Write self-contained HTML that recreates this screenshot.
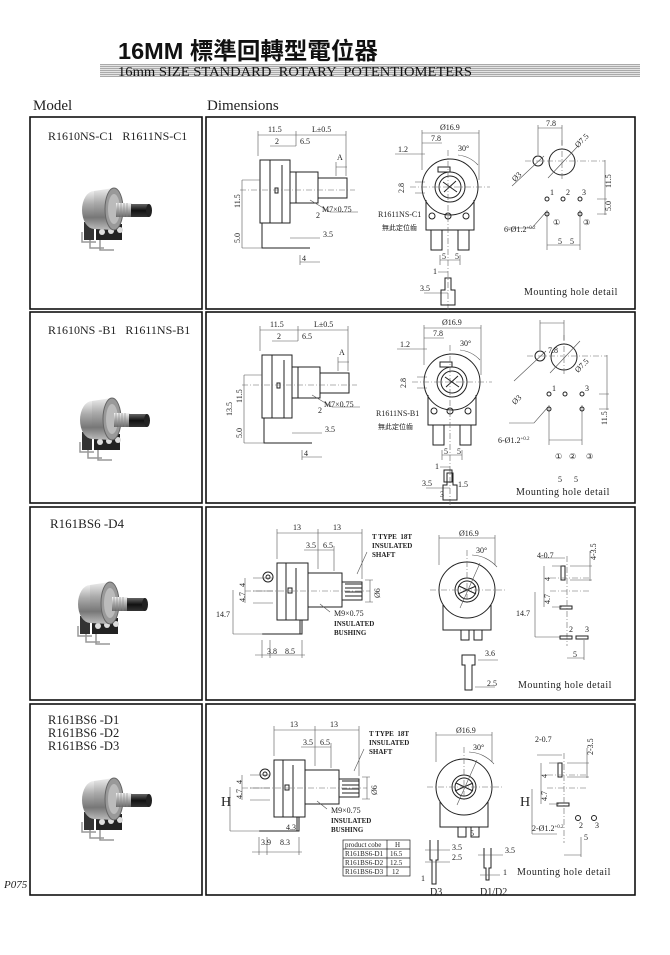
<!DOCTYPE html>
<html><head><meta charset="utf-8"><style>
html,body{margin:0;padding:0;background:#fff}
svg{display:block}
.l{stroke:#222;fill:none;stroke-width:1}
.b{stroke:#111;fill:none;stroke-width:1.6}
.d{stroke:#555;fill:none;stroke-width:.6}
.c{stroke:#666;fill:none;stroke-width:.6;stroke-dasharray:6 2 1 2}
text{font-family:"Liberation Serif",serif;fill:#222;white-space:pre}
.t{font-size:8px}
.s{font-size:7px;font-weight:bold}
</style></head><body>
<svg width="670" height="955" viewBox="0 0 670 955" xmlns="http://www.w3.org/2000/svg">
<defs>
<linearGradient id="cy" x1="0" y1="0" x2="0" y2="1">
<stop offset="0" stop-color="#eee"/><stop offset=".35" stop-color="#aaa"/><stop offset=".7" stop-color="#777"/><stop offset="1" stop-color="#bbb"/></linearGradient>
<linearGradient id="sv" x1="0" y1="0" x2="0" y2="1">
<stop offset="0" stop-color="#f4f4f4"/><stop offset=".5" stop-color="#aaa"/><stop offset="1" stop-color="#666"/></linearGradient>
<linearGradient id="hd" x1="0" y1="0" x2="0" y2="1">
<stop offset="0" stop-color="#666"/><stop offset=".5" stop-color="#111"/><stop offset="1" stop-color="#333"/></linearGradient>
<pattern id="st" width="4" height="2" patternUnits="userSpaceOnUse"><rect width="4" height="1" fill="#aaa"/><rect y="1" width="4" height="1" fill="#e4e4e4"/></pattern>
<g id="photo">
<path d="M-30 20v10h14 M-22 24v12h14 M-12 28v10h14" stroke="#999" stroke-width="1.5" fill="none"/>
<rect x="-28" y="10" width="10" height="18" fill="#333"/>
<rect x="-16" y="12" width="26" height="16" fill="#222"/>
<circle cx="-10" cy="20" r="3" fill="#ddd"/><circle cx="-1" cy="19" r="3" fill="#ddd"/><circle cx="8" cy="18" r="3" fill="#ddd"/>
<ellipse cx="-18" cy="-2" rx="12" ry="19" fill="url(#cy)"/>
<path d="M-18 -21 L2 -24 L2 18 L-18 17z" fill="url(#cy)"/>
<ellipse cx="2" cy="-3" rx="9" ry="21" fill="#999" stroke="#666"/>
<ellipse cx="2" cy="-3" rx="6" ry="15" fill="#bbb"/>
<rect x="4" y="-9" width="16" height="14" fill="url(#sv)"/>
<path d="M6 -9v14 M9 -9v14 M12 -9v14 M15 -9v14" stroke="#888" stroke-width=".6"/>
<rect x="19" y="-8" width="18" height="13" fill="url(#hd)"/>
<ellipse cx="37" cy="-1.5" rx="3" ry="6.5" fill="#222"/>
</g>
</defs>

<text x="118" y="59" style="font-family:'Liberation Sans','Noto Sans CJK TC',sans-serif;font-size:23.5px;font-weight:bold;fill:#111">16MM 標準回轉型電位器</text>
<rect x="100" y="64" width="540" height="13" fill="url(#st)"/>
<text x="118" y="76" textLength="354" lengthAdjust="spacingAndGlyphs" style="font-size:14px;fill:#111">16mm SIZE STANDARD  ROTARY  POTENTIOMETERS</text>
<text x="33" y="110" style="font-size:15px">Model</text>
<text x="207" y="110" style="font-size:15px">Dimensions</text>

<g class="b">
<rect x="30" y="117" width="172" height="192"/><rect x="206" y="117" width="429" height="192"/>
<rect x="30" y="312" width="172" height="191"/><rect x="206" y="312" width="429" height="191"/>
<rect x="30" y="507" width="172" height="193"/><rect x="206" y="507" width="429" height="193"/>
<rect x="30" y="704" width="172" height="191"/><rect x="206" y="704" width="429" height="191"/>
</g>

<text x="48" y="140" style="font-size:12px">R1610NS-C1   R1611NS-C1</text>
<text x="48" y="334" style="font-size:12px">R1610NS -B1   R1611NS-B1</text>
<text x="50" y="528" style="font-size:13px">R161BS6 -D4</text>
<text x="48" y="724" style="font-size:12.5px">R161BS6 -D1</text>
<text x="48" y="737" style="font-size:12.5px">R161BS6 -D2</text>
<text x="48" y="750" style="font-size:12.5px">R161BS6 -D3</text>

<use href="#photo" x="112" y="212"/>
<use href="#photo" x="110" y="422"/>
<use href="#photo" x="108" y="606"/>
<use href="#photo" x="112" y="802"/>

<text x="4" y="888" style="font-size:11px;font-style:italic">P075</text>

<g id="r1">
<path class="l" d="M260 160h30v63h-30z M290 172h28v31h-28z M318 178h29v20h-29z M262 223v25h48"/>
<path class="l" d="M270 160v63 M282 165v58 M296 172v31"/>
<rect x="275" y="188" width="3" height="5" class="l"/>
<path class="c" d="M240 190h115"/>
<path class="d" d="M258 135h88 M296 131v15 M258 131v25 M346 131v45 M270 146h26 M336 167h11 M336 162v14 M242 180h18 M242 180v43 M242 223v25 M242 248h20 M290 238h30 M300 262h20 M300 255v10"/>
<path class="d" d="M310 200l20 12h28"/>
<text class="t" x="268" y="132">11.5</text><text class="t" x="312" y="132">L±0.5</text>
<text class="t" x="275" y="144">2</text><text class="t" x="300" y="144">6.5</text>
<text class="t" x="337" y="160">A</text>
<text class="t" x="322" y="212">M7×0.75</text><text class="t" x="316" y="218">2</text>
<text class="t" x="323" y="237">3.5</text><text class="t" x="302" y="261">4</text>
<text class="t" transform="translate(240 208) rotate(-90)">11.5</text>
<text class="t" transform="translate(240 243) rotate(-90)">5.0</text>
<circle cx="450" cy="187" r="28" class="l"/><circle cx="450" cy="187" r="15" class="l"/><circle cx="450" cy="187" r="11" class="l"/>
<path class="l" d="M443 182l14 10 M444 192l12-11"/>
<rect x="438" y="167" width="12" height="5" class="l"/>
<path class="l" d="M426 200v30h48v-30 M431 230v20h11v-20 M458 230v20h11v-20"/>
<circle cx="432" cy="216" r="3" class="l"/><circle cx="448" cy="216" r="3" class="l"/><circle cx="466" cy="216" r="3" class="l"/>
<path class="c" d="M410 187h80 M448 150v160"/>
<path class="d" d="M422 133h57 M422 130v40 M479 130v50 M422 143h20 M395 154h30 M415 182h10 M415 193h10 M440 260h20 M440 255v10 M460 255v10 M424 293h24 M438 272h10"/>
<path class="d" d="M458 155a32 32 0 0 1 20 10"/>
<text class="t" x="440" y="130">Ø16.9</text><text class="t" x="431" y="141">7.8</text>
<text class="t" x="458" y="151">30°</text><text class="t" x="398" y="152">1.2</text>
<text class="t" transform="translate(404 193) rotate(-90)">2.8</text>
<path class="l" d="M445 278h6v12h4v15h-14v-15h4z"/>
<text class="t" x="433" y="274">1</text><text class="t" x="420" y="291">3.5</text>
<text class="t" x="442" y="259">5</text><text class="t" x="455" y="259">5</text>
<circle cx="562" cy="162" r="13" class="l"/><circle cx="538" cy="161" r="5" class="l"/>
<path class="c" d="M525 161h80 M562 140v40"/>
<path class="d" d="M538 128h24 M538 125v30 M562 125v20 M548 178l30-32 M512 186l32-30 M605 160v55 M597 199h10 M597 214h10 M547 245h33 M547 210v40 M580 210v40 M546 212l-14 16h-25"/>
<circle cx="547" cy="199" r="2" class="l"/><circle cx="563" cy="199" r="2" class="l"/><circle cx="580" cy="199" r="2" class="l"/>
<circle cx="547" cy="214" r="2" class="l"/><circle cx="580" cy="214" r="2" class="l"/>
</g>
<text class="t" x="546" y="126">7.8</text>
<text class="t" transform="translate(578 148) rotate(-45)">Ø7.5</text>
<text class="t" transform="translate(515 182) rotate(-45)">Ø3</text>
<text class="t" x="550" y="195">1</text><text class="t" x="566" y="195">2</text><text class="t" x="582" y="195">3</text>
<text class="t" x="553" y="225">①</text><text class="t" x="583" y="225">③</text>
<text class="t" x="504" y="232">6-Ø1.2<tspan font-size="5" dy="-3">+0.2</tspan></text>
<text class="t" transform="translate(611 188) rotate(-90)">11.5</text>
<text class="t" transform="translate(611 211) rotate(-90)">5.0</text>
<text class="t" x="558" y="244">5</text><text class="t" x="570" y="244">5</text>
<text class="t" x="378" y="217">R1611NS-C1</text>
<text x="382" y="230" style="font-family:'Noto Sans CJK TC',sans-serif;font-size:7px">無此定位齒</text>
<text x="524" y="295" style="font-size:10px;letter-spacing:.5px">Mounting hole detail</text>

<use href="#r1" x="2" y="195"/>
<text class="t" x="548" y="353">7.8</text>
<text class="t" transform="translate(578 373) rotate(-45)">Ø7.5</text>
<text class="t" transform="translate(515 405) rotate(-45)">Ø3</text>
<text class="t" x="552" y="391">1</text><text class="t" x="585" y="391">3</text>
<text class="t" x="555" y="459">①</text><text class="t" x="569" y="459">②</text><text class="t" x="586" y="459">③</text>
<text class="t" x="498" y="443">6-Ø1.2<tspan font-size="5" dy="-3">+0.2</tspan></text>
<text class="t" transform="translate(607 425) rotate(-90)">11.5</text>
<text class="t" x="558" y="482">5</text><text class="t" x="574" y="482">5</text>
<text class="t" x="376" y="416">R1611NS-B1</text>
<text x="378" y="429" style="font-family:'Noto Sans CJK TC',sans-serif;font-size:7px">無此定位齒</text>
<path class="l" d="M444 470h8v12h-8z"/>
<text class="t" x="458" y="487">1.5</text><text class="t" x="440" y="497">3</text>
<text x="516" y="495" style="font-size:10px;letter-spacing:.5px">Mounting hole detail</text>
<text class="t" transform="translate(232 416) rotate(-90)">13.5</text>

<g id="r3">
<path class="l" d="M277 563h31v57h-31z M308 573h34v34h-34z M342 582h20v18h-20z M262 634h40v-14 M300 620v14"/>
<path class="l" d="M345 584h17 M345 588h17 M345 592h17 M345 596h17 M286 563v57 M296 568v52"/>
<circle cx="268" cy="577" r="5" class="l"/><circle cx="268" cy="577" r="2" class="l"/>
<rect x="288" y="588" width="4" height="5" class="l"/>
<path class="c" d="M245 591h125"/>
<path class="d" d="M277 533h85 M277 529v30 M318 529v40 M362 529v50 M304 550h30 M334 546v25 M253 578h20 M253 591h20 M253 603h20 M245 578v25 M233 590v44 M233 634h30 M255 655h50 M262 640v18 M270 640v18 M302 640v18 M370 580v22 M365 580h8 M365 602h8 M330 612l-10-8 M357 574l10-22"/>
<text class="t" x="293" y="530">13</text><text class="t" x="333" y="530">13</text>
<text class="t" x="306" y="548">3.5</text><text class="t" x="323" y="548">6.5</text>
<text class="s" x="372" y="539">T TYPE  18T</text><text class="s" x="372" y="548">INSULATED</text><text class="s" x="372" y="557">SHAFT</text>
<text class="t" x="334" y="616">M9×0.75</text>
<text class="s" x="334" y="626">INSULATED</text><text class="s" x="334" y="635">BUSHING</text>
<text class="t" transform="translate(380 598) rotate(-90)">Ø6</text>
<text class="t" transform="translate(245 587) rotate(-90)">4</text>
<text class="t" transform="translate(245 602) rotate(-90)">4.7</text>
<circle cx="467" cy="590" r="28" class="l"/><circle cx="467" cy="590" r="12" class="l"/><circle cx="467" cy="590" r="9" class="l"/>
<path class="l" d="M458 594l18-8 M459 586l17 8"/>
<path class="l" d="M443 605v25h48v-25 M461 630v10h8v-10 M474 630v10h8v-10"/>
<path class="c" d="M430 590h75 M467 550v55"/>
<path class="d" d="M439 538h56 M439 535v30 M495 535v30 M472 555a35 35 0 0 1 25 12 M460 608l20-45"/>
<text class="t" x="459" y="536">Ø16.9</text><text class="t" x="476" y="553">30°</text>
<path class="l" d="M561 566h4v14h-4z M560 606h12v3h-12z"/>
<path class="c" d="M567 556v90 M550 578h40 M550 591h40"/>
<path class="d" d="M544 566v25 M552 566h10 M552 607h10 M544 591v16 M535 592v45 M535 637h25 M590 551v30 M570 566h22 M570 580h22 M567 658h17 M584 640v20 M540 558h25"/>
<text class="t" transform="translate(550 581) rotate(-90)">4</text>
<text class="t" transform="translate(550 604) rotate(-90)">4.7</text>
</g>
<text class="t" x="267" y="654">3.8</text><text class="t" x="285" y="654">8.5</text>
<text class="t" x="216" y="617">14.7</text>
<path class="l" d="M462 655h13v10h-3v25h-7v-25h-3z"/>
<path class="d" d="M478 660h20 M475 687h20"/>
<text class="t" x="485" y="656">3.6</text><text class="t" x="487" y="686">2.5</text>
<text class="t" x="537" y="558">4-0.7</text>
<text class="t" transform="translate(596 560) rotate(-90)">4-3.5</text>
<text class="t" x="516" y="616">14.7</text>
<path class="l" d="M560 636h12v3h-12z M576 636h12v3h-12z"/>
<text class="t" x="569" y="632">2</text><text class="t" x="585" y="632">3</text>
<text class="t" x="573" y="657">5</text>
<text x="518" y="688" style="font-size:10px;letter-spacing:.5px">Mounting hole detail</text>

<use href="#r3" x="-3" y="197"/>
<text class="t" x="261" y="845">3.9</text><text class="t" x="280" y="845">8.3</text>
<text class="t" x="286" y="830">4.3</text>
<text x="221" y="806" style="font-size:14px">H</text>
<text x="520" y="806" style="font-size:14px">H</text>
<text class="t" x="535" y="742">2-0.7</text>
<text class="t" transform="translate(593 755) rotate(-90)">2-3.5</text>
<circle cx="578" cy="818" r="2.5" class="l"/><circle cx="594" cy="818" r="2.5" class="l"/>
<text class="t" x="579" y="828">2</text><text class="t" x="595" y="828">3</text>
<text class="t" x="532" y="831">2-Ø1.2<tspan font-size="5" dy="-3">+0.2</tspan></text>
<text class="t" x="584" y="840">5</text>
<text class="t" x="470" y="836">5</text>
<g class="l" style="stroke-width:.7">
<rect x="343" y="840" width="67" height="36"/>
<path d="M343 849h67 M343 858h67 M343 867h67 M387 840v36"/>
</g>
<text x="345" y="847" style="font-size:7px">product cobe</text><text x="395" y="847" style="font-size:7px">H</text>
<text x="345" y="856" style="font-size:7px">R161BS6-D1</text><text x="390" y="856" style="font-size:7px">16.5</text>
<text x="345" y="865" style="font-size:7px">R161BS6-D2</text><text x="390" y="865" style="font-size:7px">12.5</text>
<text x="345" y="874" style="font-size:7px">R161BS6-D3</text><text x="392" y="874" style="font-size:7px">12</text>
<path class="l" d="M430 840v20h2v24h4v-24h2v-20 M484 848v20h2v12h3v-12h2v-20"/>
<path class="d" d="M425 850h25 M425 862h25 M478 855h25 M480 875h20"/>
<text class="t" x="452" y="850">3.5</text><text class="t" x="452" y="860">2.5</text>
<text class="t" x="505" y="853">3.5</text><text class="t" x="503" y="875">1</text>
<text class="t" x="421" y="881">1</text>
<text x="430" y="895" style="font-size:10px">D3</text>
<text x="480" y="895" style="font-size:10px">D1/D2</text>
<text x="517" y="875" style="font-size:10px;letter-spacing:.5px">Mounting hole detail</text>
</svg>
</body></html>
